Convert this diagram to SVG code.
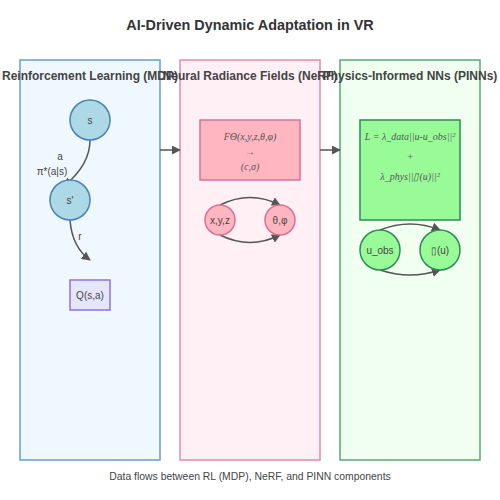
<svg xmlns="http://www.w3.org/2000/svg" width="500" height="500" viewBox="0 0 500 500">
<style>
  .title { font-family: "Liberation Sans", Arial, sans-serif; font-size: 14.4px; font-weight: bold; fill: #333; text-anchor: middle; }
  .ptitle { font-family: "Liberation Sans", Arial, sans-serif; font-size: 12px; font-weight: bold; fill: #444; text-anchor: middle; }
  .lbl { font-family: "Liberation Sans", Arial, sans-serif; font-size: 10px; fill: #444; text-anchor: middle; }
  .math { font-family: "Liberation Serif", "Times New Roman", serif; font-size: 10px; font-style: italic; fill: #555; text-anchor: middle; }
  .foot { font-family: "Liberation Sans", Arial, sans-serif; font-size: 10.4px; fill: #444; text-anchor: middle; }
  .edge { fill: none; stroke: #555; stroke-width: 1.5; }
  .rl { fill: #add8e6; stroke: #4682b4; stroke-width: 1.5; }
  .nerf { fill: #ffb6c1; stroke: #db7093; stroke-width: 1.5; }
  .pinn { fill: #98fb98; stroke: #2e8b57; stroke-width: 1.5; }
</style>
<defs>
  <marker id="arrow" viewBox="0 0 10 10" refX="9" refY="5" markerWidth="6" markerHeight="6" orient="auto">
    <path d="M0,0 L10,5 L0,10 z" fill="#555"/>
  </marker>
</defs>
<rect width="500" height="500" fill="#ffffff"/>
<text class="title" x="250" y="30">AI-Driven Dynamic Adaptation in VR</text>

<g id="panel-rl">
  <rect x="20" y="60" width="140" height="400" fill="#f0f8ff" stroke="#6b9bc8" stroke-width="1.5"/>
  <text class="ptitle" x="90" y="80">Reinforcement Learning (MDP)</text>
</g>
<g id="panel-nerf">
  <rect x="180" y="60" width="140" height="400" fill="#fff0f5" stroke="#e38aa8" stroke-width="1.5"/>
  <text class="ptitle" x="250" y="80">Neural Radiance Fields (NeRF)</text>
</g>
<g id="panel-pinn">
  <rect x="340" y="60" width="140" height="400" fill="#f0fff0" stroke="#5aa874" stroke-width="1.5"/>
  <text class="ptitle" x="410" y="80">Physics-Informed NNs (PINNs)</text>
</g>

<g id="connectors">
  <path class="edge" d="M90,140 Q90,165 64,186" marker-end="url(#arrow)"/>
  <path class="edge" d="M70,220 Q72,247 90,260" marker-end="url(#arrow)"/>
  <line class="edge" x1="160" y1="150" x2="180" y2="150" marker-end="url(#arrow)"/>
  <line class="edge" x1="320" y1="150" x2="340" y2="150" marker-end="url(#arrow)"/>
  <path class="edge" d="M220,205 Q250,190 280,205" marker-end="url(#arrow)"/>
  <path class="edge" d="M220,235 Q250,250 280,235" marker-end="url(#arrow)"/>
  <path class="edge" d="M380,230 Q410,218 440,230" marker-end="url(#arrow)"/>
  <path class="edge" d="M380,270 Q410,280 440,270" marker-end="url(#arrow)"/>
  <text class="lbl" x="60" y="160">a</text>
  <text class="lbl" x="52" y="175">π*(a|s)</text>
  <text class="lbl" x="80" y="240">r</text>
</g>

<g id="node-s">
  <circle class="rl" cx="90" cy="120" r="20"/>
  <text class="lbl" x="90" y="123.5">s</text>
</g>
<g id="node-s-prime">
  <circle class="rl" cx="70" cy="200" r="20"/>
  <text class="lbl" x="70" y="203.5">s'</text>
</g>
<g id="node-q">
  <rect x="70" y="280" width="40" height="30" fill="#e6e6fa" stroke="#9370db" stroke-width="1.5"/>
  <text class="lbl" x="90" y="298.5">Q(s,a)</text>
</g>

<g id="node-nerf-fn">
  <rect class="nerf" x="200" y="120" width="100" height="60"/>
  <text class="math" x="250" y="140">FΘ(x,y,z,θ,φ)</text>
  <text class="math" x="250" y="155">→</text>
  <text class="math" x="250" y="170">(c,σ)</text>
</g>
<g id="node-xyz">
  <circle class="nerf" cx="220" cy="220" r="15"/>
  <text class="lbl" x="220" y="223.5">x,y,z</text>
</g>
<g id="node-dir">
  <circle class="nerf" cx="280" cy="220" r="15"/>
  <text class="lbl" x="280" y="223.5">θ,φ</text>
</g>

<g id="node-loss">
  <rect class="pinn" x="360" y="120" width="100" height="100"/>
  <text class="math" x="410" y="140">L = λ_data||u-u_obs||²</text>
  <text class="math" x="410" y="160">+</text>
  <text class="math" x="410" y="180">λ_phys||▯(u)||²</text>
</g>
<g id="node-uobs">
  <circle class="pinn" cx="380" cy="250" r="20"/>
  <text class="lbl" x="380" y="253.5">u_obs</text>
</g>
<g id="node-nu">
  <circle class="pinn" cx="440" cy="250" r="20"/>
  <text class="lbl" x="440" y="253.5">▯(u)</text>
</g>

<text class="foot" x="250" y="480">Data flows between RL (MDP), NeRF, and PINN components</text>
</svg>
